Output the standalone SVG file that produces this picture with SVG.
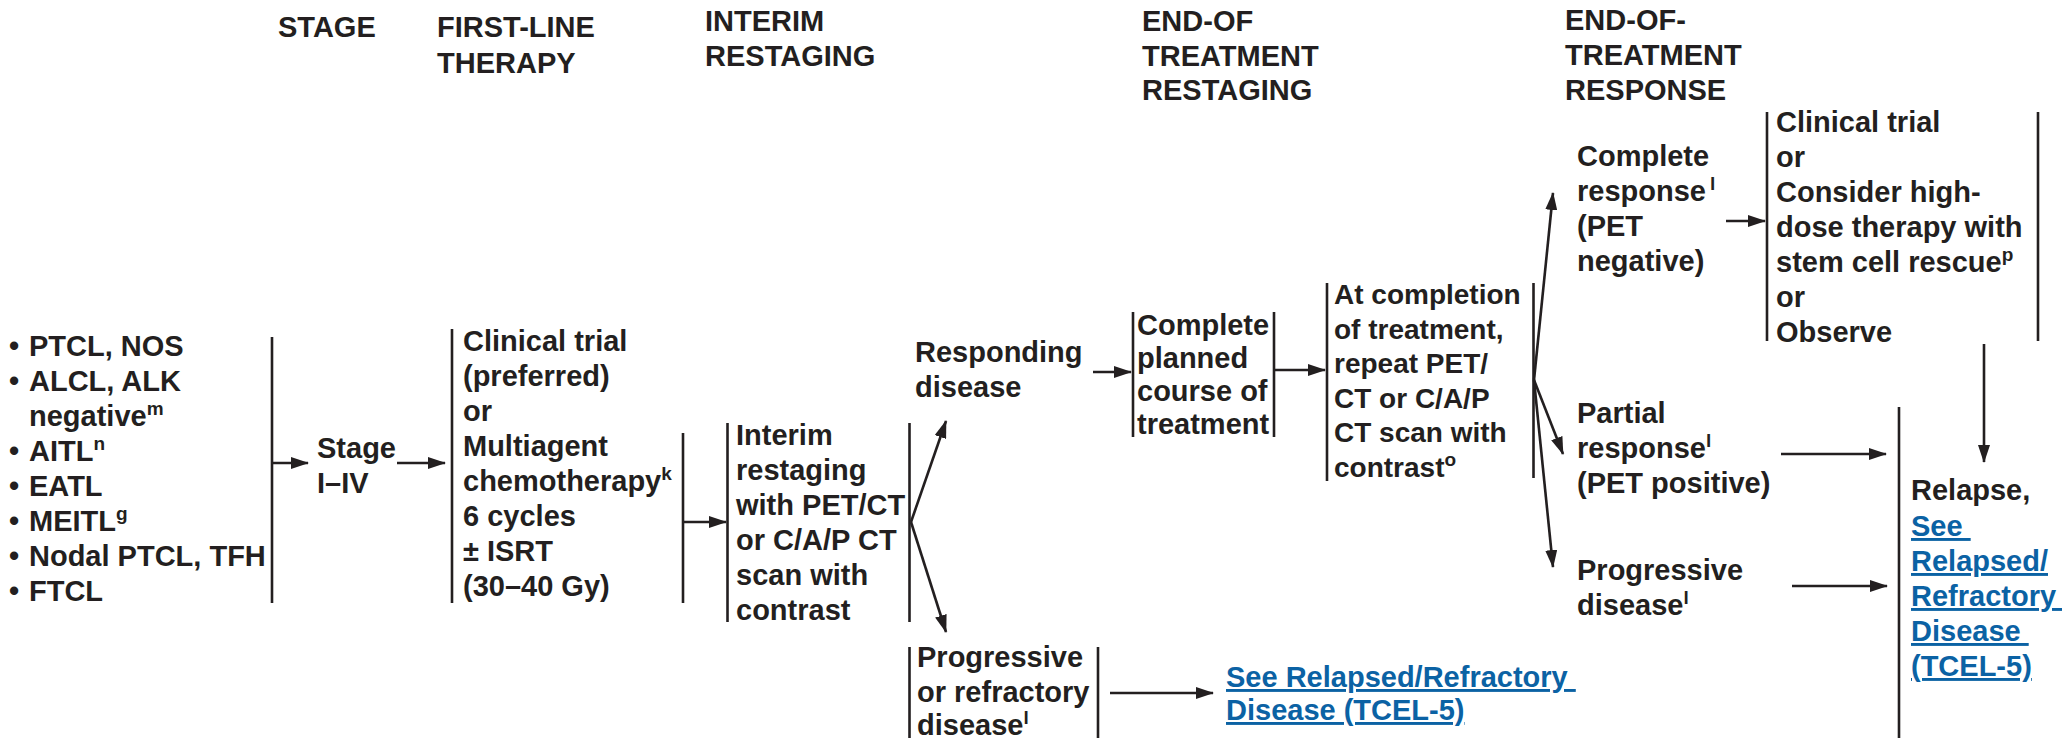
<svg xmlns="http://www.w3.org/2000/svg" width="2062" height="740" viewBox="0 0 2062 740">
<style>
text{font-family:"Liberation Sans",Arial,Helvetica,sans-serif;font-weight:bold;font-size:29px;fill:#231f20}
.sm{font-size:28px}
.sup{font-size:19px}
.lk{fill:#0b62a4;text-decoration:underline;white-space:pre}
.br{stroke:#231f20;stroke-width:2.6;fill:none}
.cn{stroke:#231f20;stroke-width:2.6;fill:none;marker-end:url(#ah)}
</style>
<defs>
<marker id="ah" markerUnits="userSpaceOnUse" markerWidth="18" markerHeight="12" refX="17" refY="6" orient="auto">
<path d="M0,0 L18,6 L0,12 z" fill="#231f20"/>
</marker>
</defs>
<rect width="2062" height="740" fill="#fff"/>

<g id="headers">
<text x="278" y="37">STAGE</text>
<text x="437" y="37">FIRST-LINE</text>
<text x="437" y="72.7">THERAPY</text>
<text x="705" y="31">INTERIM</text>
<text x="705" y="66">RESTAGING</text>
<text x="1142" y="31">END-OF</text>
<text x="1142" y="66">TREATMENT</text>
<text x="1142" y="100">RESTAGING</text>
<text x="1565" y="30">END-OF-</text>
<text x="1565" y="65">TREATMENT</text>
<text x="1565" y="100">RESPONSE</text>
</g>

<g id="subtypes">
<text x="9" y="356">•</text><text x="29" y="356">PTCL, NOS</text>
<text x="9" y="391">•</text><text x="29" y="391">ALCL, ALK</text>
<text x="29" y="426">negative<tspan class="sup" dy="-11">m</tspan></text>
<text x="9" y="461">•</text><text x="29" y="461">AITL<tspan class="sup" dy="-11">n</tspan></text>
<text x="9" y="496">•</text><text x="29" y="496">EATL</text>
<text x="9" y="531">•</text><text x="29" y="531">MEITL<tspan class="sup" dy="-11">g</tspan></text>
<text x="9" y="566">•</text><text x="29" y="566">Nodal PTCL, TFH</text>
<text x="9" y="601">•</text><text x="29" y="601">FTCL</text>
<line class="br" x1="272" y1="337" x2="272" y2="603"/>
</g>

<g id="stage">
<text x="317" y="458">Stage</text>
<text x="317" y="493">I–IV</text>
</g>

<g id="first-line">
<line class="br" x1="452" y1="329" x2="452" y2="603"/>
<text x="463" y="351">Clinical trial</text>
<text x="463" y="386">(preferred)</text>
<text x="463" y="421">or</text>
<text x="463" y="456">Multiagent</text>
<text x="463" y="491">chemotherapy<tspan class="sup" dy="-11">k</tspan></text>
<text x="463" y="526">6 cycles</text>
<text x="463" y="561">± ISRT</text>
<text x="463" y="596">(30–40 Gy)</text>
<line class="br" x1="683" y1="433" x2="683" y2="603"/>
</g>

<g id="interim">
<line class="br" x1="727.5" y1="423" x2="727.5" y2="622"/>
<text x="736" y="445">Interim</text>
<text x="736" y="480">restaging</text>
<text x="736" y="515">with PET/CT</text>
<text x="736" y="550">or C/A/P CT</text>
<text x="736" y="585">scan with</text>
<text x="736" y="619.5">contrast</text>
<line class="br" x1="909.5" y1="423" x2="909.5" y2="622"/>
</g>

<g id="responding">
<text x="915" y="362">Responding</text>
<text x="915" y="397">disease</text>
</g>

<g id="progressive-refractory">
<line class="br" x1="909.5" y1="647" x2="909.5" y2="738"/>
<text x="917" y="667">Progressive</text>
<text x="917" y="702">or refractory</text>
<text x="917" y="735">disease<tspan class="sup" dy="-11">l</tspan></text>
<line class="br" x1="1098" y1="647" x2="1098" y2="738"/>
</g>

<g id="see-relapsed-1">
<text class="lk" x="1226" y="687">See Relapsed/Refractory </text>
<text class="lk" x="1226" y="720">Disease (TCEL-5)</text>
</g>

<g id="complete-planned">
<line class="br" x1="1133" y1="312" x2="1133" y2="437"/>
<text x="1137" y="335">Complete</text>
<text x="1137" y="368">planned</text>
<text x="1137" y="401">course of</text>
<text x="1137" y="434">treatment</text>
<line class="br" x1="1274" y1="312" x2="1274" y2="437"/>
</g>

<g id="completion-restaging">
<line class="br" x1="1327" y1="283" x2="1327" y2="481"/>
<text class="sm" x="1334" y="304">At completion</text>
<text class="sm" x="1334" y="338.5">of treatment,</text>
<text class="sm" x="1334" y="373">repeat PET/</text>
<text class="sm" x="1334" y="407.5">CT or C/A/P</text>
<text class="sm" x="1334" y="442">CT scan with</text>
<text class="sm" x="1334" y="476.5">contrast<tspan class="sup" dy="-11">o</tspan></text>
<line class="br" x1="1533.5" y1="283" x2="1533.5" y2="478"/>
</g>

<g id="complete-response">
<text x="1577" y="166">Complete</text>
<text x="1577" y="201">response<tspan class="sup" dy="-11" dx="4">l</tspan></text>
<text x="1577" y="236">(PET</text>
<text x="1577" y="271">negative)</text>
</g>

<g id="cr-options">
<line class="br" x1="1767" y1="112" x2="1767" y2="341"/>
<text x="1776" y="131.7">Clinical trial</text>
<text x="1776" y="166.7">or</text>
<text x="1776" y="201.7">Consider high-</text>
<text x="1776" y="236.7">dose therapy with</text>
<text x="1776" y="271.7">stem cell rescue<tspan class="sup" dy="-11">p</tspan></text>
<text x="1776" y="306.7">or</text>
<text x="1776" y="341.7">Observe</text>
<line class="br" x1="2038" y1="112" x2="2038" y2="341"/>
</g>

<g id="partial-response">
<text x="1577" y="423">Partial</text>
<text x="1577" y="458">response<tspan class="sup" dy="-11">l</tspan></text>
<text x="1577" y="493">(PET positive)</text>
</g>

<g id="progressive-disease">
<text x="1577" y="580">Progressive</text>
<text x="1577" y="615">disease<tspan class="sup" dy="-11">l</tspan></text>
</g>

<g id="relapse">
<line class="br" x1="1899" y1="407" x2="1899" y2="738"/>
<text x="1911" y="500">Relapse,</text>
<text class="lk" x="1911" y="536">See </text>
<text class="lk" x="1911" y="571">Relapsed/</text>
<text class="lk" x="1911" y="606">Refractory </text>
<text class="lk" x="1911" y="641">Disease </text>
<text class="lk" x="1911" y="676">(TCEL-5)</text>
</g>

<g id="connectors">
<line class="cn" x1="273" y1="463" x2="308" y2="463"/>
<line class="cn" x1="397" y1="463" x2="445" y2="463"/>
<line class="cn" x1="684" y1="522" x2="726" y2="522"/>
<line class="cn" x1="911" y1="522" x2="946" y2="421"/>
<line class="cn" x1="911" y1="522" x2="946" y2="632"/>
<line class="cn" x1="1110" y1="693" x2="1213" y2="693"/>
<line class="cn" x1="1093" y1="372" x2="1131" y2="372"/>
<line class="cn" x1="1275" y1="370" x2="1325" y2="370"/>
<line class="cn" x1="1534" y1="380" x2="1553" y2="193"/>
<line class="cn" x1="1534" y1="380" x2="1563" y2="454"/>
<line class="cn" x1="1534" y1="380" x2="1553" y2="567"/>
<line class="cn" x1="1726" y1="221" x2="1765" y2="221"/>
<line class="cn" x1="1984" y1="344" x2="1984" y2="462"/>
<line class="cn" x1="1781" y1="454" x2="1886" y2="454"/>
<line class="cn" x1="1792" y1="586" x2="1887" y2="586"/>
</g>
</svg>
